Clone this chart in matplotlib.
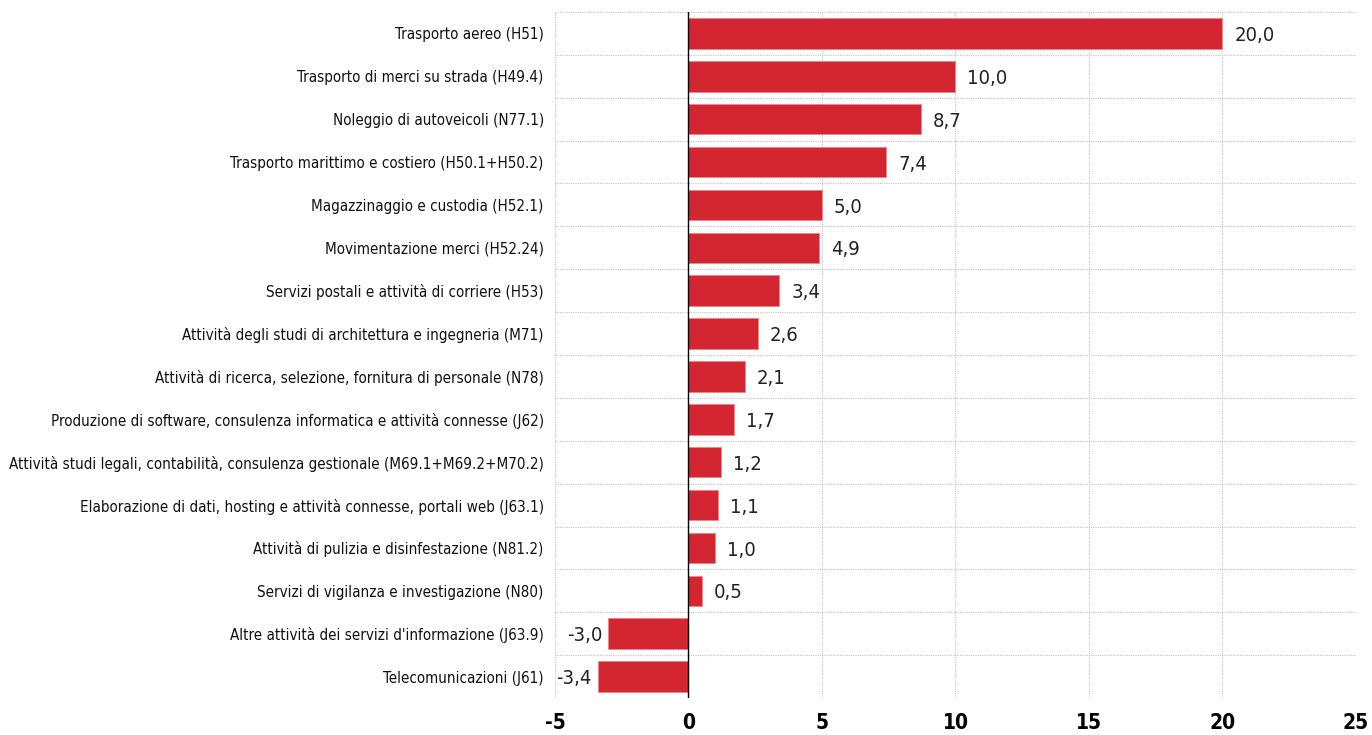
import matplotlib
matplotlib.use("Agg")
import matplotlib.pyplot as plt
from matplotlib import font_manager
from matplotlib.font_manager import FontProperties

categories = [
    "Trasporto aereo (H51)",
    "Trasporto di merci su strada (H49.4)",
    "Noleggio di autoveicoli (N77.1)",
    "Trasporto marittimo e costiero (H50.1+H50.2)",
    "Magazzinaggio e custodia (H52.1)",
    "Movimentazione merci (H52.24)",
    "Servizi postali e attività di corriere (H53)",
    "Attività degli studi di architettura e ingegneria (M71)",
    "Attività di ricerca, selezione, fornitura di personale (N78)",
    "Produzione di software, consulenza informatica e attività connesse (J62)",
    "Attività studi legali, contabilità, consulenza gestionale (M69.1+M69.2+M70.2)",
    "Elaborazione di dati, hosting e attività connesse, portali web (J63.1)",
    "Attività di pulizia e disinfestazione (N81.2)",
    "Servizi di vigilanza e investigazione (N80)",
    "Altre attività dei servizi d'informazione (J63.9)",
    "Telecomunicazioni (J61)",
]
values = [20.0, 10.0, 8.7, 7.4, 5.0, 4.9, 3.4, 2.6, 2.1, 1.7, 1.2, 1.1, 1.0, 0.5, -3.0, -3.4]
xticks = [-5, 0, 5, 10, 15, 20, 25]

# look for a condensed/narrow sans font
reg_file = None
bold_file = None
for f in font_manager.fontManager.ttflist:
    nm = f.name.lower()
    fn = f.fname.lower()
    cond = ('narrow' in nm or 'condensed' in nm or 'condensed' in fn or 'narrow' in fn
            or f.stretch in ('condensed', 'semi-condensed', 'extra-condensed', 583, 625, 500))
    if cond and 'sans' in nm and 'mono' not in nm:
        w = f.weight if isinstance(f.weight, int) else (700 if f.weight == 'bold' else 400)
        if f.style == 'normal':
            if w >= 600 and bold_file is None:
                bold_file = f.fname
            elif w < 600 and reg_file is None:
                reg_file = f.fname

plt.rcParams['font.family'] = ['Liberation Sans', 'DejaVu Sans']
if reg_file:
    fp_lab = FontProperties(fname=reg_file, size=10.9)
    fp_val = FontProperties(fname=reg_file, size=14.5)
else:
    fp_lab = FontProperties(family='Liberation Sans', size=11.2)
    fp_val = FontProperties(family='Liberation Sans', size=14)
if bold_file:
    fp_tick = FontProperties(fname=bold_file, size=15)
else:
    fp_tick = FontProperties(family='Liberation Sans', weight='bold', size=14)

fig = plt.figure(figsize=(13.72, 7.35), dpi=100)
ax = fig.add_axes([0.4045, 0.0503, 0.5838, 0.9334])

n = len(categories)
ypos = list(range(n))
ax.barh(ypos, values, height=0.71, color="#D32630", edgecolor="#E8868B", linewidth=0.6, zorder=3)
ax.set_ylim(n - 0.5, -0.5)
ax.set_xlim(-5, 25)
ax.set_xticks(xticks)
ax.set_xticklabels([str(t) for t in xticks], fontproperties=fp_tick)
ax.set_yticks(ypos)
ax.set_yticklabels(categories, fontproperties=fp_lab, color="#111111")
ax.tick_params(axis='both', length=0)
ax.tick_params(axis='x', pad=11)
ax.tick_params(axis='y', pad=8)

for b in [i + 0.5 for i in range(-1, n)]:
    ax.axhline(b, color="#C4C4C4", linestyle=(0, (1, 1)), linewidth=0.8, zorder=1)
for t in xticks:
    ax.axvline(t, color="#C4C4C4", linestyle=(0, (1, 1)), linewidth=0.8, zorder=1)
ax.axvline(0, color="black", linewidth=1.0, zorder=4)

for s in ax.spines.values():
    s.set_visible(False)

for y, v in zip(ypos, values):
    lab = f"{v:.1f}".replace(".", ",")
    if v >= 0:
        ax.text(v + 0.45, y + 0.05, lab, va='center', ha='left', fontproperties=fp_val, color="#222222")
    else:
        ax.text(v - 0.22, y + 0.05, lab, va='center', ha='right', fontproperties=fp_val, color="#222222")

fig.savefig("out.png", dpi=100)
